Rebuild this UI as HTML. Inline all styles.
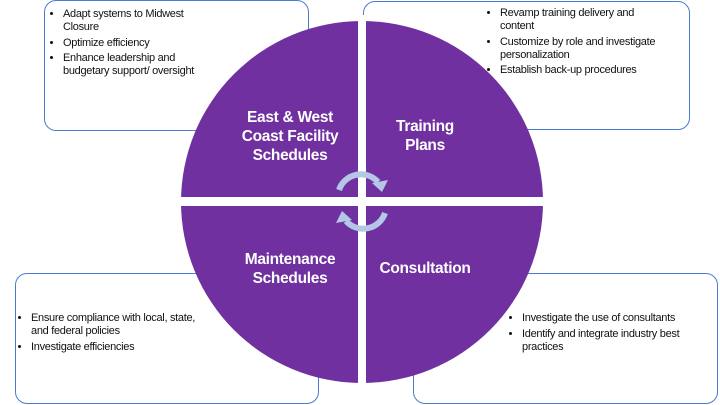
<!DOCTYPE html>
<html><head><style>
body{margin:0;width:720px;height:405px;background:#fff;overflow:hidden;font-family:"Liberation Sans",sans-serif}
.box{position:absolute;border:1.3px solid #4a7bd0;border-radius:12px;background:#fff;box-sizing:border-box}
ul{margin:0;padding-left:14px;font-size:11px;line-height:13px;color:#111;letter-spacing:-0.3px;white-space:nowrap}
li{margin-bottom:2.5px}
.t{position:absolute;color:#fff;font-weight:bold;font-size:15.5px;text-align:center;line-height:19px;letter-spacing:-0.3px}
</style></head><body>
<div class="box" style="left:44px;top:0;width:265px;height:131px"><ul style="margin-top:7px;margin-left:4px"><li>Adapt systems to Midwest<br>Closure</li><li>Optimize efficiency</li><li>Enhance leadership and<br>budgetary support/ oversight</li></ul></div>
<div class="box" style="left:363px;top:1px;width:327px;height:129px"><ul style="margin-top:5px;margin-left:122px"><li>Revamp training delivery and<br>content</li><li>Customize by role and investigate<br>personalization</li><li>Establish back-up procedures</li></ul></div>
<div class="box" style="left:15px;top:273px;width:304px;height:131px"><ul style="margin-top:38px;margin-left:1px"><li>Ensure compliance with local, state,<br>and federal policies</li><li>Investigate efficiencies</li></ul></div>
<div class="box" style="left:413px;top:273px;width:305px;height:131px"><ul style="margin-top:38px;margin-left:94px"><li>Investigate the use of consultants</li><li>Identify and integrate industry best<br>practices</li></ul></div>
<svg width="720" height="405" style="position:absolute;left:0;top:0">
<circle cx="362" cy="202" r="181" fill="#7030a0"/>
<rect x="358" y="15" width="8" height="380" fill="#fff"/>
<rect x="175" y="197" width="380" height="9" fill="#fff"/>
<g fill="none" stroke="#b4c7e7" stroke-width="6">
<path d="M339 190 A23 23 0 0 1 378 182"/>
<path d="M385 213 A23 23 0 0 1 346 221"/>
</g>
<polygon points="372,183 388,180 382,192" fill="#b4c7e7"/>
<polygon points="352,220 336,223 342,211" fill="#b4c7e7"/>
</svg>
<div class="t" style="left:225px;top:108px;width:130px">East &amp; West<br>Coast Facility<br>Schedules</div>
<div class="t" style="left:380px;top:117px;width:90px">Training<br>Plans</div>
<div class="t" style="left:225px;top:250px;width:130px">Maintenance<br>Schedules</div>
<div class="t" style="left:370px;top:259px;width:110px">Consultation</div>
</body></html>
